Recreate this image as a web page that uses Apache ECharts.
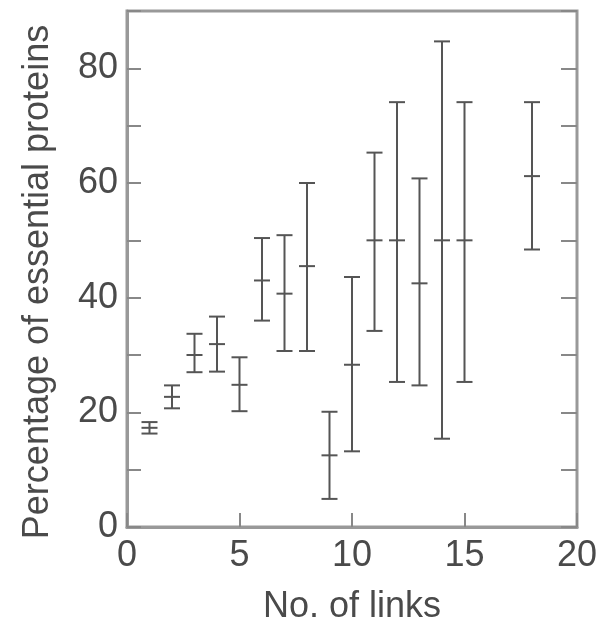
<!DOCTYPE html>
<html>
<head>
<meta charset="utf-8">
<script src="https://cdn.jsdelivr.net/npm/echarts@6/dist/echarts.min.js"></script>
<style>
html,body{margin:0;padding:0;background:#fff;}
#chart{width:600px;height:621px;}
</style>
</head>
<body>
<div id="chart"></div>
<script>
// Data
const links   = [1, 2, 3, 4, 5, 6, 7, 8, 9, 10, 11, 12, 13, 14, 15, 18];
const percent = [17.3, 22.7, 30.0, 31.9, 24.8, 43.0, 40.7, 45.5, 12.5, 28.3, 50.0, 50.0, 42.5, 50.0, 50.0, 61.2];
const lower   = [16.3, 20.7, 27.0, 27.1, 20.2, 36.0, 30.7, 30.7, 4.9, 13.2, 34.2, 25.3, 24.7, 15.4, 25.3, 48.4];
const upper   = [18.3, 24.7, 33.7, 36.7, 29.6, 50.4, 50.9, 60.0, 20.1, 43.6, 65.3, 74.1, 60.8, 84.7, 74.1, 74.1];
const xTickLabels = [0, 5, 10, 15, 20];
const yTickLabels = [0, 20, 40, 60, 80];
const xName = 'No. of links';
const yName = 'Percentage of essential proteins';

const rows = links.map((x, i) => [x, lower[i], percent[i], upper[i]]);

const textColor = '#4a4a4a';
const frameColor = '#999';
const barColor = '#555';
const font = '"Liberation Sans", Arial, sans-serif';

const chart = echarts.init(document.getElementById('chart'));
chart.setOption({
  animation: false,
  backgroundColor: '#fff',
  grid: {
    left: 127, right: 23, top: 11, bottom: 94,
    containLabel: false, outerBoundsMode: 'none',
    show: true, borderColor: frameColor, borderWidth: 3, backgroundColor: 'transparent'
  },
  xAxis: {
    type: 'value', min: 0, max: 20, interval: 5,
    name: xName, nameLocation: 'middle', nameGap: 62,
    nameTextStyle: { fontFamily: font, fontSize: 36, color: textColor },
    axisLine: { show: true, lineStyle: { color: frameColor, width: 3 } },
    axisTick: { show: true, inside: true, length: 14, lineStyle: { color: '#888', width: 2 } },
    axisLabel: {
      margin: 11, fontFamily: font, fontSize: 36, color: textColor,
      formatter: v => xTickLabels.includes(v) ? String(v) : ''
    },
    splitLine: { show: false }
  },
  yAxis: [{
    type: 'value', min: 0, max: 90, interval: 10, position: 'left',
    name: yName, nameLocation: 'middle', nameGap: 71, nameRotate: 90,
    nameTextStyle: { fontFamily: font, fontSize: 36, color: textColor, padding: [0, 26, 0, 0] },
    axisLine: { show: true, lineStyle: { color: frameColor, width: 3 } },
    axisTick: { show: true, inside: true, length: 14, lineStyle: { color: '#888', width: 2 } },
    axisLabel: {
      margin: 9, fontFamily: font, fontSize: 36, color: textColor,
      formatter: v => yTickLabels.includes(v) ? String(v) : ''
    },
    splitLine: { show: false }
  }, {
    type: 'value', min: 0, max: 90, interval: 10, position: 'right',
    axisLine: { show: false },
    axisTick: { show: true, inside: true, length: 16, lineStyle: { color: '#888', width: 2 } },
    axisLabel: { show: false },
    splitLine: { show: false }
  }],
  series: [{
    type: 'custom',
    data: rows,
    encode: { x: 0, y: [1, 2, 3] },
    renderItem: function (params, api) {
      const x = api.value(0);
      const pLo = api.coord([x, api.value(1)]);
      const pMid = api.coord([x, api.value(2)]);
      const pHi = api.coord([x, api.value(3)]);
      const hw = 8;
      const st = { stroke: barColor, lineWidth: 2 };
      return {
        type: 'group',
        children: [
          { type: 'line', shape: { x1: pHi[0], y1: pHi[1], x2: pLo[0], y2: pLo[1] }, style: st },
          { type: 'line', shape: { x1: pHi[0] - hw, y1: pHi[1], x2: pHi[0] + hw, y2: pHi[1] }, style: st },
          { type: 'line', shape: { x1: pLo[0] - hw, y1: pLo[1], x2: pLo[0] + hw, y2: pLo[1] }, style: st },
          { type: 'line', shape: { x1: pMid[0] - hw, y1: pMid[1], x2: pMid[0] + hw, y2: pMid[1] }, style: st }
        ]
      };
    }
  }]
});
</script>
</body>
</html>
